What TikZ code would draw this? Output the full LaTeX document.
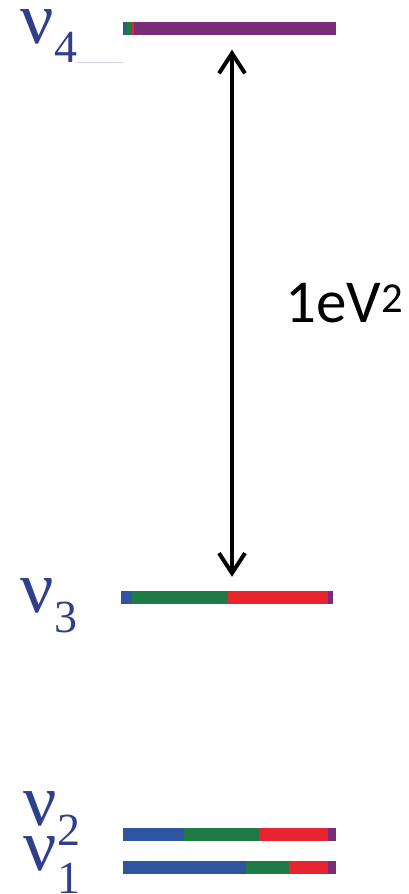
\documentclass[tikz,border=0pt]{standalone}
\usepackage{fontspec}
\setmainfont{Liberation Serif}
\newfontfamily\evfont{Carlito}
\usetikzlibrary{arrows.meta, positioning}
\definecolor{nublue}{HTML}{2E54A2}
\definecolor{nugreen}{HTML}{1E7B45}
\definecolor{nured}{HTML}{E8242F}
\definecolor{nupurple}{HTML}{7B2C78}
\definecolor{nunavy}{HTML}{2F3F8C}
\tikzset{
  lvl/.style={rectangle, minimum width=213pt, minimum height=13pt, inner sep=0pt},
  nulab/.style={text=nunavy, font=\fontsize{74}{74}\selectfont, inner sep=0pt, anchor=base west},
  sublab/.style={text=nunavy, font=\fontsize{46}{46}\selectfont, inner sep=0pt, anchor=base west},
  dmarr/.style={{Straight Barb[length=20pt, width=26pt]}-{Straight Barb[length=20pt, width=26pt]}, line width=4pt, black},
}
\newcommand{\levelsegs}[2]{%
  \foreach \xa/\xb/\col in {#2} \fill[\col] (\xa,#1) rectangle (\xb,#1+13);
}

\begin{document}
\begin{tikzpicture}[x=1pt, y=-1pt]
  \useasboundingbox (0,0) rectangle (409,894);

  % Mass levels
  \node[lvl] (l4) at (229.5,29) {};
  \levelsegs{22}{123/126/nublue, 126/132/nugreen, 132/134/nured, 134/336/nupurple}
  \node[lvl, minimum width=212pt] (l3) at (227,597.5) {};
  \levelsegs{591}{121/132/nublue, 132/228/nugreen, 228/328/nured, 328/333/nupurple}
  \node[lvl] (l2) at (229.5,834.5) {};
  \levelsegs{828}{123/184/nublue, 184/259/nugreen, 259/328/nured, 328/336/nupurple}
  \node[lvl] (l1) at (229.5,867.5) {};
  \levelsegs{861}{123/246/nublue, 246/289/nugreen, 289/328/nured, 328/336/nupurple}

  % Labels
  \node[nulab] (n4) at (20,43) {ν};
  \node[sublab] (s4) at ([yshift=-19pt]n4.base east) {4};
  \node[nulab] (n3) at (20,612) {ν};
  \node[sublab] (s3) at ([yshift=-20pt]n3.base east) {3};
  \node[nulab] (n2) at (23,825) {ν};
  \node[sublab] (s2) at ([yshift=-20pt]n2.base east) {2};
  \node[nulab] (n1) at (23,870) {ν};
  \node[sublab] (s1) at ([yshift=-23pt]n1.base east) {1};
  \draw[nunavy!25, line width=0.8pt] (s4.base east) -- (s4.base east -| l4.west);

  % Splitting
  \coordinate (ax) at (232,0);
  \draw[dmarr, shorten <=14pt, shorten >=14pt] (l4.south -| ax) -- (l3.north -| ax);
  \node[font=\evfont\fontsize{61}{61}\selectfont, anchor=base west, inner sep=0pt] (dm) at (285,322) {1eV\textsuperscript{2}};
\end{tikzpicture}
\end{document}
